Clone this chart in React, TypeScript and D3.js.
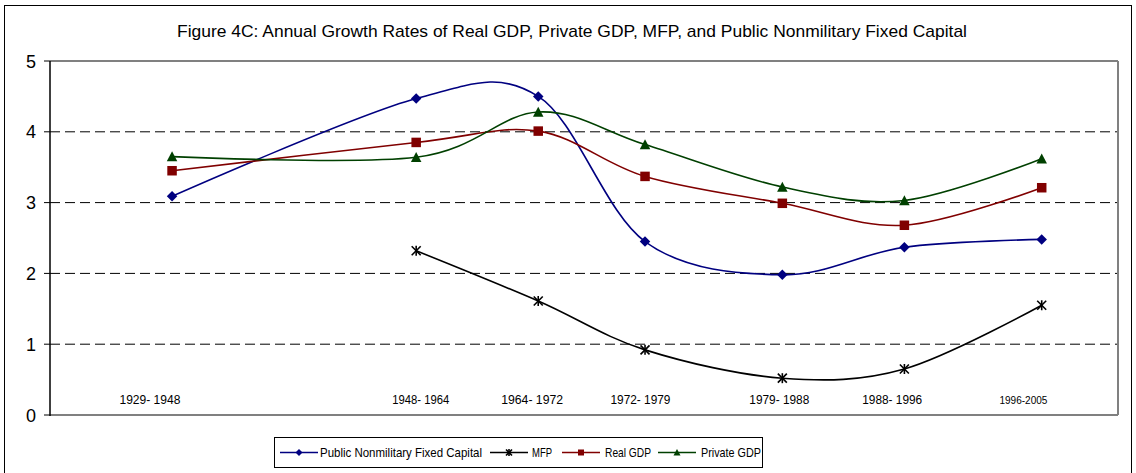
import React from "react";
import * as d3 from "d3";

// ---- data ----
const endYears = [1948, 1964, 1972, 1979, 1988, 1996, 2005];
const periodLabels = ["1929- 1948", "1948- 1964", "1964- 1972", "1972- 1979", "1979- 1988", "1988- 1996", "1996-2005"];
const publicCapital: (number | null)[] = [3.09, 4.47, 4.5, 2.45, 1.98, 2.37, 2.48];
const mfp: (number | null)[] = [null, 2.32, 1.61, 0.92, 0.52, 0.65, 1.55];
const realGdp: (number | null)[] = [3.45, 3.85, 4.01, 3.37, 2.99, 2.68, 3.21];
const privateGdp: (number | null)[] = [3.65, 3.64, 4.28, 3.82, 3.22, 3.03, 3.62];
const yTicks = [0, 1, 2, 3, 4, 5];

const titleText = "Figure 4C: Annual Growth Rates of Real GDP, Private GDP, MFP, and Public Nonmilitary Fixed Capital";

// label placement tweaks (years, relative to period end) and styles
const labelShift = [-1.45, 0.3, -0.4, -0.3, -0.2, -0.8, -1.2];
const labelWidths = [61, 57, 62, 60, 60, 60, 48];

const W = 1136, H = 473;
const x = d3.scaleLinear().domain([1940, 2010]).range([50, 1118]);
const y = d3.scaleLinear().domain([0, 5]).range([415, 61]);

type Series = { name: string; values: (number | null)[]; color: string; marker: string };
const series: Series[] = [
  { name: "Public Nonmilitary Fixed Capital", values: publicCapital, color: "#000080", marker: "diamond" },
  { name: "MFP", values: mfp, color: "#000000", marker: "star" },
  { name: "Real GDP", values: realGdp, color: "#800000", marker: "square" },
  { name: "Private GDP", values: privateGdp, color: "#004000", marker: "triangle" },
];

function Marker({ type, cx, cy, color, s }: { type: string; cx: number; cy: number; color: string; s: number }) {
  const h = s / 2;
  if (type === "diamond") {
    return <path d={`M${cx},${cy - h - 0.5}L${cx + h + 0.5},${cy}L${cx},${cy + h + 0.5}L${cx - h - 0.5},${cy}Z`} fill={color} />;
  }
  if (type === "square") {
    return <rect x={cx - h} y={cy - h} width={s} height={s} fill={color} />;
  }
  if (type === "triangle") {
    return <path d={`M${cx},${cy - h - 0.5}L${cx + h + 0.5},${cy + h}L${cx - h - 0.5},${cy + h}Z`} fill={color} />;
  }
  // star (asterisk)
  return (
    <g stroke={color} strokeWidth={1.6}>
      <line x1={cx - h} y1={cy - h} x2={cx + h} y2={cy + h} />
      <line x1={cx - h} y1={cy + h} x2={cx + h} y2={cy - h} />
      <line x1={cx} y1={cy - h - 0.5} x2={cx} y2={cy + h + 0.5} />
    </g>
  );
}

export default function App() {
  const line = d3
    .line<[number, number]>()
    .x((d) => x(d[0]))
    .y((d) => y(d[1]))
    .curve(d3.curveCardinal.tension(0));

  const legendItems = [
    { lx: 280, tx: 320, tw: 162 },
    { lx: 490, tx: 532, tw: 20 },
    { lx: 562, tx: 605, tw: 46 },
    { lx: 658, tx: 701, tw: 60 },
  ];

  return (
    <svg width={W} height={H} style={{ position: "absolute", left: 0, top: 0, background: "#fff" }} fontFamily="'Liberation Sans', Arial, sans-serif">
      <rect x={0} y={0} width={W} height={H} fill="#fff" />
      <rect x={4.5} y={5.5} width={1127} height={480} fill="#fff" stroke="#000" strokeWidth={1} />
      <text x={572} y={37} textAnchor="middle" fontSize={17} textLength={790} lengthAdjust="spacingAndGlyphs" fill="#000">
        {titleText}
      </text>

      {/* plot area */}
      <rect x={50} y={61} width={1068} height={354} fill="#fff" />
      {yTicks.filter((t) => t > 0 && t < 5).map((t) => (
        <line key={t} x1={50} x2={1118} y1={y(t)} y2={y(t)} stroke="#000" strokeWidth={1} strokeDasharray="10,5" />
      ))}
      <line x1={50} x2={1118} y1={y(5)} y2={y(5)} stroke="#808080" strokeWidth={2} />
      <line x1={1118} x2={1118} y1={y(5)} y2={y(0)} stroke="#808080" strokeWidth={2} />
      <line x1={50} x2={1118} y1={y(0)} y2={y(0)} stroke="#808080" strokeWidth={2} />
      <line x1={50} x2={50} y1={y(5)} y2={y(0) + 1} stroke="#000" strokeWidth={1.5} />
      {yTicks.map((t) => (
        <g key={t}>
          <line x1={44} x2={50} y1={y(t)} y2={y(t)} stroke="#000" strokeWidth={1} />
          <text x={36} y={y(t) + 6.5} textAnchor="end" fontSize={18} fill="#000">{t}</text>
        </g>
      ))}

      {/* period labels */}
      {periodLabels.map((lab, i) => (
        <text key={lab} x={x(endYears[i] + labelShift[i])} y={404} textAnchor="middle" fontSize={i === 6 ? 11 : 13}
          textLength={labelWidths[i]} lengthAdjust="spacingAndGlyphs" fill="#000">
          {lab}
        </text>
      ))}

      {/* series */}
      {series.map((s) => {
        const pts: [number, number][] = [];
        s.values.forEach((v, i) => { if (v != null) pts.push([endYears[i], v]); });
        return (
          <g key={s.name}>
            <path d={line(pts) || ""} fill="none" stroke={s.color} strokeWidth={1.6} />
            {pts.map((p, i) => (
              <Marker key={i} type={s.marker} cx={x(p[0])} cy={y(p[1])} color={s.color} s={s.marker === "star" ? 9 : 9.5} />
            ))}
          </g>
        );
      })}

      {/* legend */}
      <rect x={274.5} y={437.5} width={488} height={30} fill="#fff" stroke="#000" strokeWidth={1} />
      {series.map((s, i) => {
        const it = legendItems[i];
        return (
          <g key={s.name}>
            <line x1={it.lx} x2={it.lx + 38} y1={452.5} y2={452.5} stroke={s.color} strokeWidth={1.6} />
            <Marker type={s.marker} cx={it.lx + 19} cy={452.5} color={s.color} s={6} />
            <text x={it.tx} y={457} fontSize={13} textLength={it.tw} lengthAdjust="spacingAndGlyphs" fill="#000">{s.name}</text>
          </g>
        );
      })}
    </svg>
  );
}
